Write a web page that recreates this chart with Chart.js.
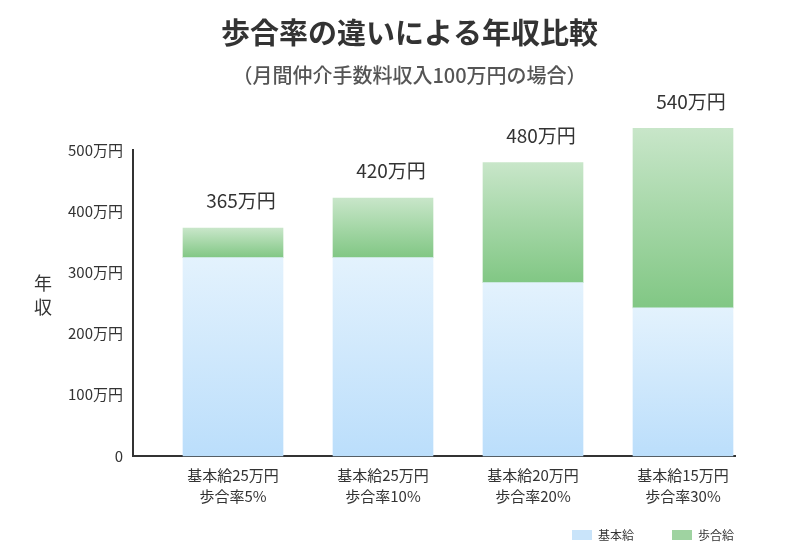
<!DOCTYPE html>
<html lang="ja">
<head>
<meta charset="utf-8">
<script src="https://cdn.jsdelivr.net/npm/chart.js@4.4.1/dist/chart.umd.min.js"></script>
<style>
  html, body { margin: 0; padding: 0; background: #ffffff; }
  #wrap { width: 800px; height: 557px; position: relative; }
</style>
</head>
<body>
<div id="wrap"><canvas id="c"></canvas></div>
<script>
// ---- data ----
const categoriesLine1 = ['基本給25万円', '基本給25万円', '基本給20万円', '基本給15万円'];
const categoriesLine2 = ['歩合率5%', '歩合率10%', '歩合率20%', '歩合率30%'];
const baseSalary = [324, 324, 283, 242];
const commission = [48, 97, 196, 293];
const totalLabels = ['365万円', '420万円', '480万円', '540万円'];
const yTickLabels = ['0', '100万円', '200万円', '300万円', '400万円', '500万円'];
const seriesNames = ['基本給', '歩合給'];
const yAxisTitle = ['年', '収'];
const chartTitle = '歩合率の違いによる年収比較';
const chartSubtitle = '（月間仲介手数料収入100万円の場合）';

// ---- styles ----
const FONT = '"Noto Sans CJK JP", "Noto Sans", sans-serif';
const TEXT = '#333333';
const blueTop = '#e3f2fd', blueBottom = '#bbdefb';
const greenTop = '#c8e6c9', greenBottom = '#81c784';
const legendColors = ['#c9e4fa', '#9fd3a1'];

Chart.defaults.font.family = FONT;
Chart.defaults.color = TEXT;

function grad(ctx, top, bottom, c1, c2) {
  const g = ctx.createLinearGradient(0, top, 0, bottom);
  g.addColorStop(0, c1);
  g.addColorStop(1, c2);
  return g;
}

function segmentFill(isBase) {
  return (c) => {
    const chart = c.chart;
    const y = chart.scales && chart.scales.y;
    const i = c.dataIndex;
    if (!chart.chartArea || !y || i === undefined) return isBase ? legendColors[0] : legendColors[1];
    if (isBase) {
      return grad(chart.ctx, y.getPixelForValue(baseSalary[i]), y.getPixelForValue(0), blueTop, blueBottom);
    }
    return grad(chart.ctx, y.getPixelForValue(baseSalary[i] + commission[i]), y.getPixelForValue(baseSalary[i]), greenTop, greenBottom);
  };
}

const valueLabelPlugin = {
  id: 'valueLabels',
  afterDatasetsDraw(chart) {
    const { ctx, scales: { x, y } } = chart;
    ctx.save();
    ctx.font = '19px ' + FONT;
    ctx.fillStyle = TEXT;
    ctx.textAlign = 'center';
    ctx.textBaseline = 'middle';
    totalLabels.forEach((t, i) => {
      const px = x.getPixelForValue(i) + 8;
      const py = y.getPixelForValue(baseSalary[i] + commission[i]) - 27;
      ctx.fillText(t, px, py);
    });
    ctx.restore();
  }
};

const yTitlePlugin = {
  id: 'yTitle',
  afterDraw(chart) {
    const { ctx, chartArea } = chart;
    const mid = (chartArea.top + chartArea.bottom) / 2 - 8;
    ctx.save();
    ctx.font = '18px ' + FONT;
    ctx.fillStyle = TEXT;
    ctx.textAlign = 'center';
    ctx.textBaseline = 'middle';
    ctx.fillText(yAxisTitle[0], 43, mid - 12);
    ctx.fillText(yAxisTitle[1], 43, mid + 12);
    ctx.restore();
  }
};

// let the two-line category labels extend below the axis box
const xLabelRoomPlugin = {
  id: 'xLabelRoom',
  afterLayout(chart) {
    chart.scales.x.bottom = chart.height;
  }
};

new Chart(document.getElementById('c'), {
  type: 'bar',
  data: {
    datasets: [
      {
        label: seriesNames[0],
        data: baseSalary.map((v, i) => ({ x: i, y: v })),
        backgroundColor: segmentFill(true),
        borderWidth: 0,
        barThickness: 100,
        clip: false
      },
      {
        label: seriesNames[1],
        data: commission.map((v, i) => ({ x: i, y: v })),
        backgroundColor: segmentFill(false),
        borderWidth: 0,
        barThickness: 100,
        clip: false
      }
    ]
  },
  options: {
    responsive: true,
    maintainAspectRatio: false,
    animation: false,
    layout: { padding: { left: 47, right: 28, top: 0, bottom: 6 } },
    plugins: {
      tooltip: { enabled: false },
      title: {
        display: true,
        text: chartTitle,
        color: TEXT,
        font: { size: 29, weight: 'bold', family: FONT },
        padding: { top: 16, bottom: 0 }
      },
      subtitle: {
        display: true,
        text: chartSubtitle,
        color: '#555555',
        font: { size: 20, weight: 500, family: FONT },
        padding: { top: 13, bottom: 62 }
      },
      legend: {
        position: 'bottom',
        align: 'end',
        labels: {
          boxWidth: 20,
          boxHeight: 10,
          padding: 38,
          color: TEXT,
          font: { size: 12, family: FONT },
          generateLabels(chart) {
            const items = Chart.defaults.plugins.legend.labels.generateLabels(chart);
            items.forEach((it, k) => {
              it.fillStyle = legendColors[k];
              it.strokeStyle = 'rgba(0,0,0,0)';
              it.lineWidth = 0;
            });
            return items;
          }
        }
      }
    },
    scales: {
      x: {
        type: 'linear',
        stacked: true,
        offset: false,
        min: -2 / 3,
        max: 3.3467,
        grid: { display: false, drawTicks: false },
        border: { display: true, color: '#333333', width: 2 },
        afterBuildTicks(scale) {
          scale.ticks = categoriesLine1.map((_, i) => ({ value: i }));
        },
        afterFit(scale) {
          scale.height = 35;
          scale.paddingLeft = 0;
          scale.paddingRight = 0;
        },
        ticks: {
          autoSkip: false,
          maxRotation: 0,
          padding: 9,
          color: TEXT,
          font: { size: 15, lineHeight: 1.4, family: FONT },
          callback: (value) => [categoriesLine1[value], categoriesLine2[value]]
        }
      },
      y: {
        stacked: true,
        min: 0,
        max: 500,
        grid: { display: false, drawTicks: false },
        border: { display: true, color: '#333333', width: 2 },
        afterFit(scale) { scale.width = 86; },
        ticks: {
          stepSize: 100,
          padding: 10,
          color: TEXT,
          font: { size: 15, family: FONT },
          callback: (value, index) => yTickLabels[index]
        }
      },
      yr: {
        position: 'right',
        display: true,
        grid: { display: false, drawTicks: false },
        border: { display: false },
        ticks: { display: false },
        afterFit(scale) { scale.width = 37; }
      }
    }
  },
  plugins: [valueLabelPlugin, yTitlePlugin, xLabelRoomPlugin]
});
</script>
</body>
</html>
